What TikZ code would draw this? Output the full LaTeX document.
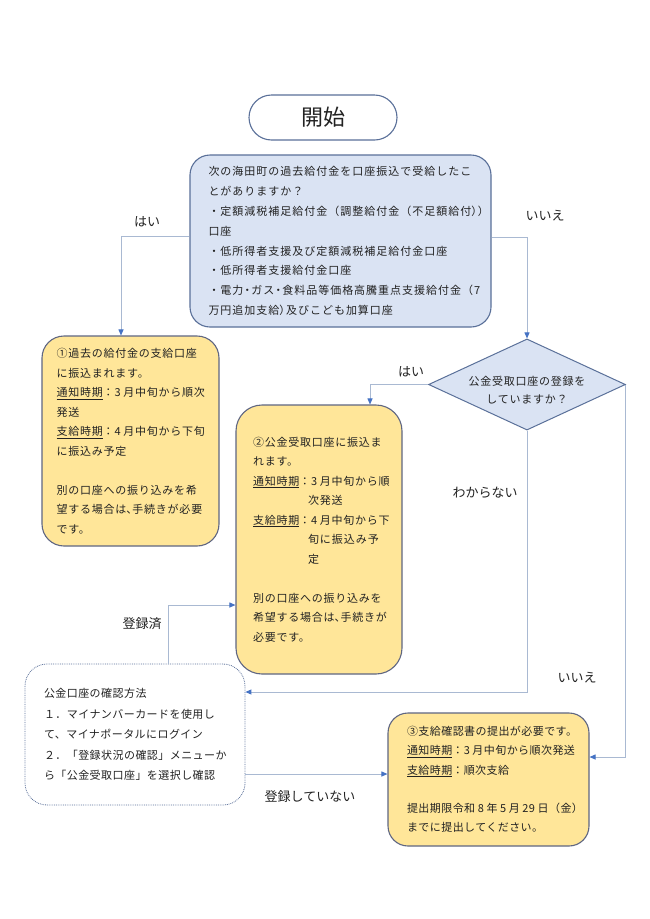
\documentclass[tikz,border=0pt]{standalone}
\usepackage{fontspec}
\usetikzlibrary{arrows.meta,shapes.geometric,calc}
\newfontfamily\jpa{Noto Sans CJK JP}[LetterSpace=7]
\newfontfamily\jpb{Noto Sans CJK JP}[LetterSpace=4]
\newfontfamily\jpd{Noto Sans CJK JP}[LetterSpace=9]
\newfontfamily\jpc{Noto Sans CJK JP}
\definecolor{bfill}{HTML}{DAE3F3}
\definecolor{bdraw}{HTML}{5A7099}
\definecolor{yfill}{HTML}{FFE699}
\definecolor{ydraw}{HTML}{5F6682}
\definecolor{lcol}{HTML}{A9B9D2}
\definecolor{acol}{HTML}{4472C4}
\definecolor{tcol}{HTML}{222222}
\newcommand\jpcl{\makebox[0.6em][l]{）}}
\newcommand\jpdot{\makebox[0.72em][c]{・}}
\newcommand\jpten{\makebox[0.55em][l]{、}}
\newcommand\nsp{\kern2.6pt}
\begin{document}
\begin{tikzpicture}[x=1pt,y=-1pt,
  qbox/.style={draw=bdraw, fill=bfill, line width=1.1pt, rounded corners=20pt,
    align=left, inner ysep=0pt, text=tcol, font=\jpd\fontsize{11}{19.8}\selectfont},
  ybox/.style={draw=ydraw, fill=yfill, line width=1.1pt, rounded corners=22pt,
    align=left, inner ysep=0pt, text=tcol, font=\jpa\fontsize{11}{19.5}\selectfont},
  dbox/.style={draw=bdraw, densely dotted, line width=0.8pt, rounded corners=22pt,
    align=left, inner ysep=0pt, text=tcol, font=\jpb\fontsize{11}{20.5}\selectfont},
  conn/.style={draw=lcol, line width=0.9pt, -{Triangle[length=6pt,width=5pt,color=acol]}},
  lbl/.style={text=tcol, font=\jpc\fontsize{13}{15}\selectfont}]
\useasboundingbox[fill=white] (0,0) rectangle (650,919);

\node[draw=bdraw, line width=1.1pt, rounded corners=22.5pt, minimum width=148pt,
  minimum height=45pt, text=tcol, font=\jpc\fontsize{22}{26}\selectfont] (start) at (323,117.5) {開始};

\node[qbox, text width=264pt, inner xsep=18.5pt, minimum width=301pt, minimum height=172pt] (b1) at (340.5,241) {%
次の海田町の過去給付金を口座振込で受給したこ\\
とがありますか？\\
・定額減税補足給付金（調整給付金（不足額給付\jpcl\jpcl\\
口座\\
・低所得者支援及び定額減税補足給付金口座\\
・低所得者支援給付金口座\\
・電力\jpdot ガス\jpdot 食料品等価格高騰重点支援給付金（7\\
万円追加支給\jpcl 及びこども加算口座};

\node[ybox, text width=148pt, inner xsep=14.5pt, minimum width=177pt, minimum height=210pt] (b2) at (130.5,441) {%
①過去の給付金の支給口座\\
に振込まれます。\\
\underline{通知時期}：3\nsp 月中旬から順次\\
発送\\
\underline{支給時期}：4\nsp 月中旬から下旬\\
に振込み予定\\[19.5pt]
別の口座への振り込みを希\\
望する場合は\jpten 手続きが必要\\
です。};

\node[shape=diamond, aspect=2.16, draw=bdraw, fill=bfill, line width=1pt,
  minimum width=192pt, minimum height=89pt, inner sep=0pt, text=tcol,
  font=\jpa\fontsize{11}{18.5}\selectfont] (dia) at (527,384.5)
  {\raisebox{-6.5pt}[\height][\depth]{\begin{tabular}{@{}c@{}}公金受取口座の登録を\\していますか？\end{tabular}}};

\node[ybox, rounded corners=26pt, text width=132pt, inner xsep=17pt, minimum width=166pt, minimum height=269pt] (b3) at (319,539.5) {%
②公金受取口座に振込ま\\
れます。\\
\underline{通知時期}：3\nsp 月中旬から順\\
\hspace*{55pt}次発送\\
\underline{支給時期}：4\nsp 月中旬から下\\
\hspace*{55pt}旬\kern1pt に\kern1pt 振\kern1pt 込\kern1pt み\kern1pt 予\\
\hspace*{55pt}定\\[19.5pt]
別の口座への振り込みを\\
希望する場合は\jpten 手続きが\\
必要です。};

\node[dbox, text width=182pt, inner xsep=19pt, minimum width=220pt, minimum height=141pt] (bl) at (135,734.5) {%
公金口座の確認方法\\
１．マイナンバーカードを使用し\\
て、マイナポータルにログイン\\
２．「登録状況の確認」メニューか\\
ら「公金受取口座」を選択し確認};

\node[ybox, rounded corners=20pt, font=\jpb\fontsize{11}{19.3}\selectfont,
  text width=163pt, inner xsep=19pt, minimum width=201pt, minimum height=133pt] (b4) at (488.5,779.5) {%
③支給確認書の提出が必要です。\\
\underline{通知時期}：3\nsp 月中旬から順次発送\\
\underline{支給時期}：順次支給\\[19.3pt]
提出期限令和\nsp 8\nsp 年\nsp 5\nsp 月\nsp 29\nsp 日（金）\\
までに提出してください。};

\node[lbl] (l1) at (147,222) {はい};
\node[lbl] (l2) at (545,216) {いいえ};
\node[lbl] (l3) at (411,372) {はい};
\node[lbl] (l4) at (485,493) {わからない};
\node[lbl] (l5) at (577,678) {いいえ};
\node[lbl] (l6) at (142,624) {登録済};
\node[lbl] (l7) at (310,797) {登録していない};

\draw[conn] ([yshift=5pt]b1.west) -| ([xshift=-9.5pt]b2.north);
\draw[conn] ([yshift=4pt]b1.east) -| (dia.north);
\draw[conn] (dia.west) -| ([xshift=51pt]b3.north);
\draw[conn] (dia.south) |- ([yshift=42.5pt]bl.east);
\draw[conn] (dia.east) |- ([yshift=22.5pt]b4.east);
\draw[conn] ([xshift=33pt]bl.north) |- ([yshift=-65.5pt]b3.west);
\draw[conn] ([yshift=-39.5pt]bl.east) -- ([yshift=-39.5pt]bl.east -| b4.west);
\end{tikzpicture}
\end{document}
